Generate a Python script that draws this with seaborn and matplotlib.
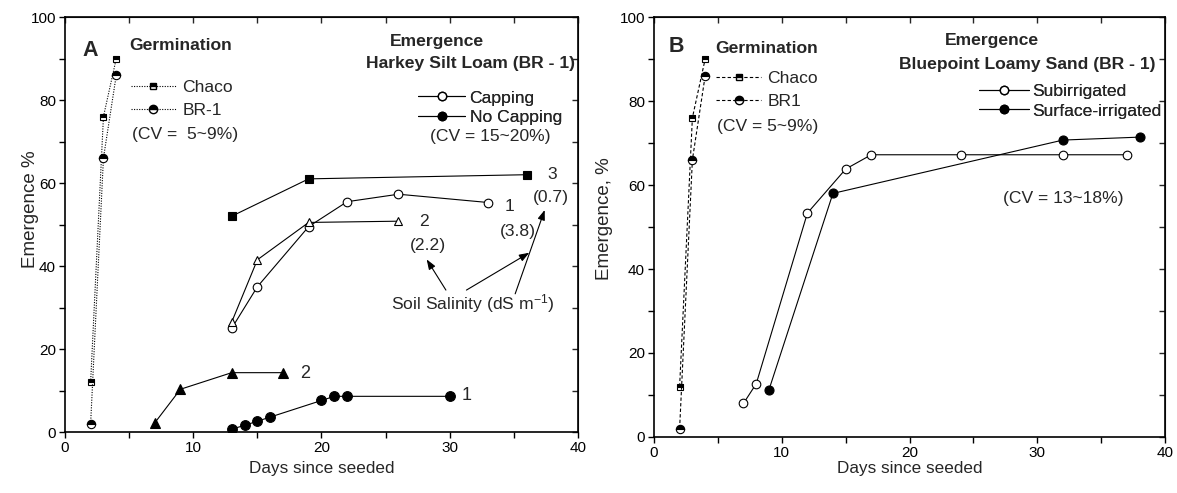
import matplotlib
matplotlib.use("Agg")
import matplotlib.pyplot as plt
from matplotlib.lines import Line2D
from matplotlib.ticker import MultipleLocator
import seaborn as sns

# ---------------- data ----------------
# Panel A: germination (days since seeded, %)
germ_days = [2, 3, 4]
germ_chaco_a = [12, 76, 90]
germ_br1_a = [2, 66, 86]
# Panel A: emergence, Harkey silt loam
cap1_days = [13, 15, 19, 22, 26, 33]
cap1_vals = [25, 35, 49.5, 55.5, 57.3, 55.3]
cap2_days = [13, 15, 19, 26]
cap2_vals = [26.5, 41.5, 50.5, 50.8]
nocap3_days = [13, 19, 36]
nocap3_vals = [52, 61, 62]
nocap2_days = [7, 9, 13, 17]
nocap2_vals = [2.2, 10.3, 14.3, 14.3]
nocap1_days = [13, 14, 15, 16, 20, 21, 22, 30]
nocap1_vals = [0.7, 1.6, 2.6, 3.6, 7.6, 8.6, 8.6, 8.6]
# Panel B: germination
germ_chaco_b = [12, 76, 90]
germ_br1_b = [2, 66, 86]
# Panel B: emergence, Bluepoint loamy sand
sub_days = [7, 8, 12, 15, 17, 24, 32, 37]
sub_vals = [8, 12.7, 53.3, 63.8, 67.2, 67.2, 67.2, 67.2]
surf_days = [9, 14, 32, 38]
surf_vals = [11.3, 58, 70.7, 71.4]

# ---------------- style ----------------
sns.set_style("ticks")
plt.rcParams["font.family"] = ["Liberation Sans", "DejaVu Sans"]
plt.rcParams["mathtext.fontset"] = "custom"
plt.rcParams["mathtext.rm"] = "Liberation Sans"
plt.rcParams["mathtext.it"] = "Liberation Sans"

fig = plt.figure(figsize=(11.77, 4.93), dpi=100)
axA = fig.add_axes([0.0552, 0.1237, 0.4359, 0.8418])
axB = fig.add_axes([0.5557, 0.1136, 0.4342, 0.8519])

LW = 0.8
DOT = (0, (1, 1.3))
DASH = (0, (3, 2))
FS = 12.6      # annotation / legend text
FB = 12.6      # bold headings
FT = 11        # tick labels


def series(ax, x, y, marker, ls, ms, fill="full", mfc="k"):
    sns.lineplot(x=x, y=y, ax=ax, color="k", linestyle=ls, lw=LW,
                 marker=marker, markersize=ms, markeredgecolor="k",
                 markeredgewidth=0.8, markerfacecolor=mfc,
                 fillstyle=fill, markerfacecoloralt="white",
                 sort=False, errorbar=None)


def style_axes(ax, ylabel, ylab_xy, xlab_y):
    ax.set_xlim(0, 40)
    ax.set_ylim(0, 100)
    ax.xaxis.set_major_locator(MultipleLocator(10))
    ax.xaxis.set_minor_locator(MultipleLocator(5))
    ax.yaxis.set_major_locator(MultipleLocator(20))
    ax.yaxis.set_minor_locator(MultipleLocator(10))
    for s in ax.spines.values():
        s.set_visible(True)
        s.set_linewidth(1.2)
        s.set_color("k")
    ax.tick_params(which="both", direction="out", length=4, width=1.0,
                   colors="k", labelsize=FT, top=False, right=False, pad=2.5)
    sec_x = ax.secondary_xaxis("top")
    sec_x.xaxis.set_major_locator(MultipleLocator(5))
    sec_x.tick_params(direction="in", length=4, width=1.0, labeltop=False)
    sec_y = ax.secondary_yaxis("right")
    sec_y.yaxis.set_major_locator(MultipleLocator(10))
    sec_y.tick_params(direction="in", length=4, width=1.0, labelright=False)
    ax.set_xlabel("Days since seeded", fontsize=12.3, va="center")
    ax.set_ylabel(ylabel, fontsize=13.5, va="center")
    ax.xaxis.set_label_coords(0.5, xlab_y)
    ax.yaxis.set_label_coords(*ylab_xy)


# ---------------- Panel A ----------------
series(axA, germ_days, germ_chaco_a, "s", DOT, 4.5, fill="top")
series(axA, germ_days, germ_br1_a, "o", DOT, 6, fill="top")
series(axA, cap1_days, cap1_vals, "o", "-", 6.2, mfc="white")
series(axA, cap2_days, cap2_vals, "^", "-", 6.2, mfc="white")
series(axA, nocap3_days, nocap3_vals, "s", "-", 5.5)
series(axA, nocap2_days, nocap2_vals, "^", "-", 6.5)
series(axA, nocap1_days, nocap1_vals, "o", "-", 7)
style_axes(axA, "Emergence %", (-0.068, 0.537), -0.089)

tA = axA.transAxes
axA.text(0.049, 0.92, "A", transform=tA, fontsize=15.5, fontweight="bold",
         ha="center", va="center")
axA.text(0.125, 0.9325, "Germination", transform=tA, fontsize=FB,
         fontweight="bold", ha="left", va="center")
hA1 = [Line2D([], [], color="k", ls=DOT, lw=LW, marker="s", ms=4.5,
              mec="k", mfc="k", fillstyle="top", markerfacecoloralt="white"),
       Line2D([], [], color="k", ls=DOT, lw=LW, marker="o", ms=6,
              mec="k", mfc="k", fillstyle="top", markerfacecoloralt="white")]
legA1 = axA.legend(hA1, ["Chaco", "BR-1"], loc="center left",
                   bbox_to_anchor=(0.128, 0.802), frameon=False, fontsize=FS,
                   handlelength=2.6, handletextpad=0.35, labelspacing=0.46,
                   borderpad=0, borderaxespad=0, numpoints=1)
axA.add_artist(legA1)
axA.text(0.131, 0.718, "(CV =  5~9%)", transform=tA, fontsize=FS,
         ha="left", va="center")

axA.text(0.7245, 0.9405, "Emergence", transform=tA, fontsize=FB,
         fontweight="bold", ha="center", va="center")
axA.text(0.994, 0.888, "Harkey Silt Loam (BR - 1)", transform=tA,
         fontsize=FB, fontweight="bold", ha="right", va="center")
hA2 = [Line2D([], [], color="k", ls="-", lw=LW, marker="o", ms=6,
              mec="k", mfc="white"),
       Line2D([], [], color="k", ls="-", lw=LW, marker="o", ms=6,
              mec="k", mfc="k")]
legA2 = axA.legend(hA2, ["Capping", "No Capping"], loc="center left",
                   bbox_to_anchor=(0.688, 0.781), frameon=False, fontsize=FS,
                   handlelength=2.7, handletextpad=0.25, labelspacing=0.26,
                   borderpad=0, borderaxespad=0, numpoints=1)
axA.add_artist(legA2)
axA.text(0.8285, 0.711, "(CV = 15~20%)", transform=tA, fontsize=FS,
         ha="center", va="center")

for txt, x, y in [("3", 0.9505, 0.6217), ("(0.7)", 0.9468, 0.5646),
                  ("1", 0.8674, 0.5446), ("(3.8)", 0.883, 0.4843),
                  ("2", 0.6998, 0.5084), ("(2.2)", 0.707, 0.4506)]:
    axA.text(x, y, txt, transform=tA, fontsize=FS, ha="center", va="center")
axA.text(0.7953, 0.3084, "Soil Salinity (dS m$^{-1}$)", transform=tA,
         fontsize=FS, ha="center", va="center")
arrow_kw = dict(arrowstyle="-|>,head_length=0.6,head_width=0.22", color="k",
                lw=0.8, shrinkA=0, shrinkB=0)
for (x0, y0), (x1, y1) in [((29.7, 34.2), (28.2, 41.6)),
                           ((31.3, 34.2), (36.2, 43.2)),
                           ((35.1, 33.3), (37.4, 53.5))]:
    axA.annotate("", xy=(x1, y1), xytext=(x0, y0), arrowprops=arrow_kw)
axA.text(18.7, 14.1, "2", fontsize=13, ha="center", va="center")
axA.text(31.3, 8.9, "1", fontsize=13, ha="center", va="center")

# ---------------- Panel B ----------------
series(axB, germ_days, germ_chaco_b, "s", DASH, 4.5, fill="top")
series(axB, germ_days, germ_br1_b, "o", DASH, 6, fill="top")
series(axB, sub_days, sub_vals, "o", "-", 6.2, mfc="white")
series(axB, surf_days, surf_vals, "o", "-", 6.5)
style_axes(axB, "Emergence, %", (-0.096, 0.52), -0.076)

tB = axB.transAxes
axB.text(0.0444, 0.929, "B", transform=tB, fontsize=15.5, fontweight="bold",
         ha="center", va="center")
axB.text(0.119, 0.926, "Germination", transform=tB, fontsize=FB,
         fontweight="bold", ha="left", va="center")
hB1 = [Line2D([], [], color="k", ls=DASH, lw=LW, marker="s", ms=4.5,
              mec="k", mfc="k", fillstyle="top", markerfacecoloralt="white"),
       Line2D([], [], color="k", ls=DASH, lw=LW, marker="o", ms=6,
              mec="k", mfc="k", fillstyle="top", markerfacecoloralt="white")]
legB1 = axB.legend(hB1, ["Chaco", "BR1"], loc="center left",
                   bbox_to_anchor=(0.122, 0.8265), frameon=False, fontsize=FS,
                   handlelength=2.55, handletextpad=0.35, labelspacing=0.46,
                   borderpad=0, borderaxespad=0, numpoints=1)
axB.add_artist(legB1)
axB.text(0.1227, 0.740, "(CV = 5~9%)", transform=tB, fontsize=FS,
         ha="left", va="center")
axB.text(0.661, 0.945, "Emergence", transform=tB, fontsize=FB,
         fontweight="bold", ha="center", va="center")
axB.text(0.982, 0.886, "Bluepoint Loamy Sand (BR - 1)", transform=tB,
         fontsize=FB, fontweight="bold", ha="right", va="center")
hB2 = [Line2D([], [], color="k", ls="-", lw=LW, marker="o", ms=6,
              mec="k", mfc="white"),
       Line2D([], [], color="k", ls="-", lw=LW, marker="o", ms=6,
              mec="k", mfc="k")]
legB2 = axB.legend(hB2, ["Subirrigated", "Surface-irrigated"],
                   loc="center left", bbox_to_anchor=(0.636, 0.800),
                   frameon=False, fontsize=FS, handlelength=2.85,
                   handletextpad=0.16, labelspacing=0.26, borderpad=0,
                   borderaxespad=0, numpoints=1)
axB.add_artist(legB2)
axB.text(0.801, 0.568, "(CV = 13~18%)", transform=tB, fontsize=FS,
         ha="center", va="center")

fig.savefig("out.png", dpi=100)
